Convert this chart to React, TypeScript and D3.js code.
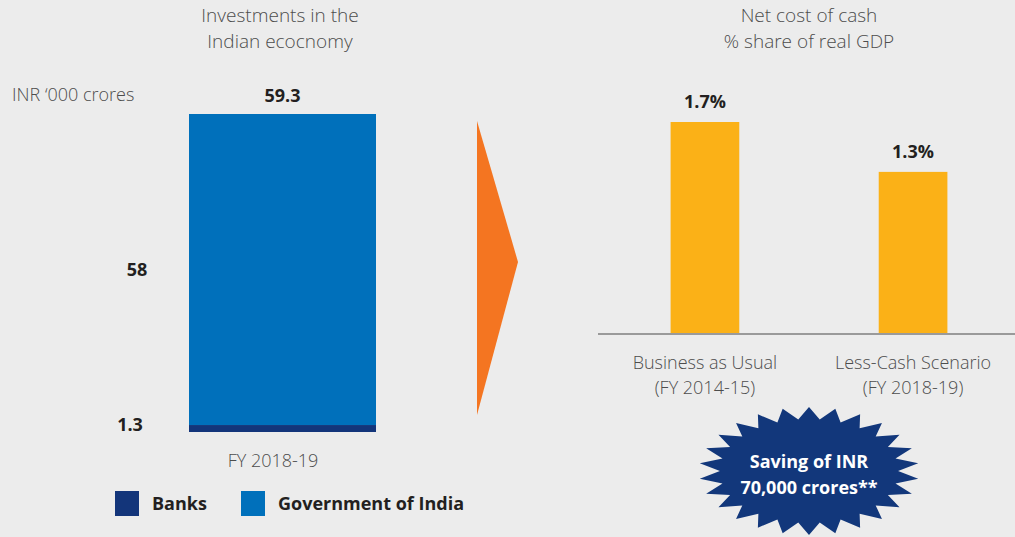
import React from "react";
import * as d3 from "d3";

const leftCategory = ["FY 2018-19"];
const leftSeries = ["Banks", "Government of India"];
const banksValues = [1.3];
const govValues = [58];
const totalLabels = ["59.3"];

const rightCategories = ["Business as Usual|(FY 2014-15)", "Less-Cash Scenario|(FY 2018-19)"];
const rightValues = [1.7, 1.3];
const rightLabels = ["1.7%", "1.3%"];

const W = 1015;
const H = 537;
const BG = "#ececec";
const TXT = "#231f20";
const GREY = "#4d4d4d";
const FONT = "'Open Sans', 'Noto Sans', sans-serif";
const BANK_C = "#13357a";
const GOV_C = "#0070bb";
const YEL = "#fbb117";

export default function App() {
  // Left stacked bar
  const xL = d3.scaleBand().domain(leftCategory).range([189, 376]).padding(0);
  const total = banksValues[0] + govValues[0];
  const yL = d3.scaleLinear().domain([0, total]).range([432, 114]);
  const stackData = [{ cat: leftCategory[0], Banks: banksValues[0], "Government of India": govValues[0] }];
  const stacked = d3.stack<any>().keys(leftSeries)(stackData);
  const colorL = d3.scaleOrdinal<string>().domain(leftSeries).range([BANK_C, GOV_C]);

  // Right bars
  const xR = d3.scaleBand().domain(rightCategories).range([604, 1014]).paddingInner(0.67).paddingOuter(0.32);
  const yR = d3.scaleLinear().domain([0, 1.7]).range([334, 122]);

  // Starburst
  const cx = 809, cy = 471, rx = 110, ry = 64, spikes = 26, inner = 0.81;
  const pts: [number, number][] = [];
  for (let i = 0; i < spikes * 2; i++) {
    const a = (Math.PI * i) / spikes - Math.PI / 2;
    const r = i % 2 === 0 ? 1 : inner;
    pts.push([cx + Math.cos(a) * rx * r, cy + Math.sin(a) * ry * r]);
  }
  const starPath = d3.line()(pts)! + "Z";

  return (
    <svg width={W} height={H} style={{ position: "fixed", left: 0, top: 0, background: BG }} fontFamily={FONT}>
      <rect width={W} height={H} fill={BG} />
      {/* Left title */}
      <text x={280} y={22} textAnchor="middle" fontSize={19} fontWeight={300} fill={GREY}>Investments in the</text>
      <text x={280} y={48} textAnchor="middle" fontSize={19} fontWeight={300} fill={GREY}>Indian ecocnomy</text>
      <text x={12} y={101} fontSize={18} fontWeight={300} fill={GREY}>INR ‘000 crores</text>

      {stacked.map((s) =>
        s.map((d, i) => (
          <rect key={s.key + i} x={xL(leftCategory[i])} width={xL.bandwidth()} y={yL(d[1])} height={yL(d[0]) - yL(d[1])} fill={colorL(s.key)} />
        ))
      )}
      <text x={xL(leftCategory[0])! + xL.bandwidth() / 2} y={102} textAnchor="middle" fontSize={18} fontWeight={700} fill={TXT}>{totalLabels[0]}</text>
      <text x={137} y={276} textAnchor="middle" fontSize={18} fontWeight={700} fill={TXT}>{String(govValues[0])}</text>
      <text x={130} y={431} textAnchor="middle" fontSize={18} fontWeight={700} fill={TXT}>{String(banksValues[0])}</text>
      <text x={273} y={467} textAnchor="middle" fontSize={18} fontWeight={300} fill={GREY}>{leftCategory[0]}</text>

      {/* Legend */}
      <rect x={115} y={491} width={24} height={25} fill={BANK_C} />
      <text x={152} y={510} fontSize={18} fontWeight={700} fill={TXT}>{leftSeries[0]}</text>
      <rect x={241} y={491} width={24} height={25} fill={GOV_C} />
      <text x={278} y={510} fontSize={18} fontWeight={700} fill={TXT}>{leftSeries[1]}</text>

      {/* Arrow */}
      <polygon points="477,121 518,262 477,415" fill="#f47521" />

      {/* Right title */}
      <text x={809} y={22} textAnchor="middle" fontSize={19} fontWeight={300} fill={GREY}>Net cost of cash</text>
      <text x={809} y={48} textAnchor="middle" fontSize={19} fontWeight={300} fill={GREY}>% share of real GDP</text>

      {rightCategories.map((c, i) => (
        <g key={c}>
          <rect x={xR(c)} width={xR.bandwidth()} y={yR(rightValues[i])} height={yR(0) - yR(rightValues[i])} fill={YEL} />
          <text x={xR(c)! + xR.bandwidth() / 2} y={yR(rightValues[i]) - 14} textAnchor="middle" fontSize={18} fontWeight={700} fill={TXT}>{rightLabels[i]}</text>
          {c.split("|").map((line, j) => (
            <text key={j} x={xR(c)! + xR.bandwidth() / 2} y={369 + j * 25} textAnchor="middle" fontSize={18} fontWeight={300} fill={GREY}>{line}</text>
          ))}
        </g>
      ))}
      <line x1={598} x2={1015} y1={334} y2={334} stroke="#9a9a9a" strokeWidth={2} />

      {/* Starburst */}
      <path d={starPath} fill="#12377b" />
      <text x={809} y={468} textAnchor="middle" fontSize={18} fontWeight={700} fill="#fff">Saving of INR</text>
      <text x={809} y={494} textAnchor="middle" fontSize={18} fontWeight={700} fill="#fff">70,000 crores**</text>
    </svg>
  );
}
